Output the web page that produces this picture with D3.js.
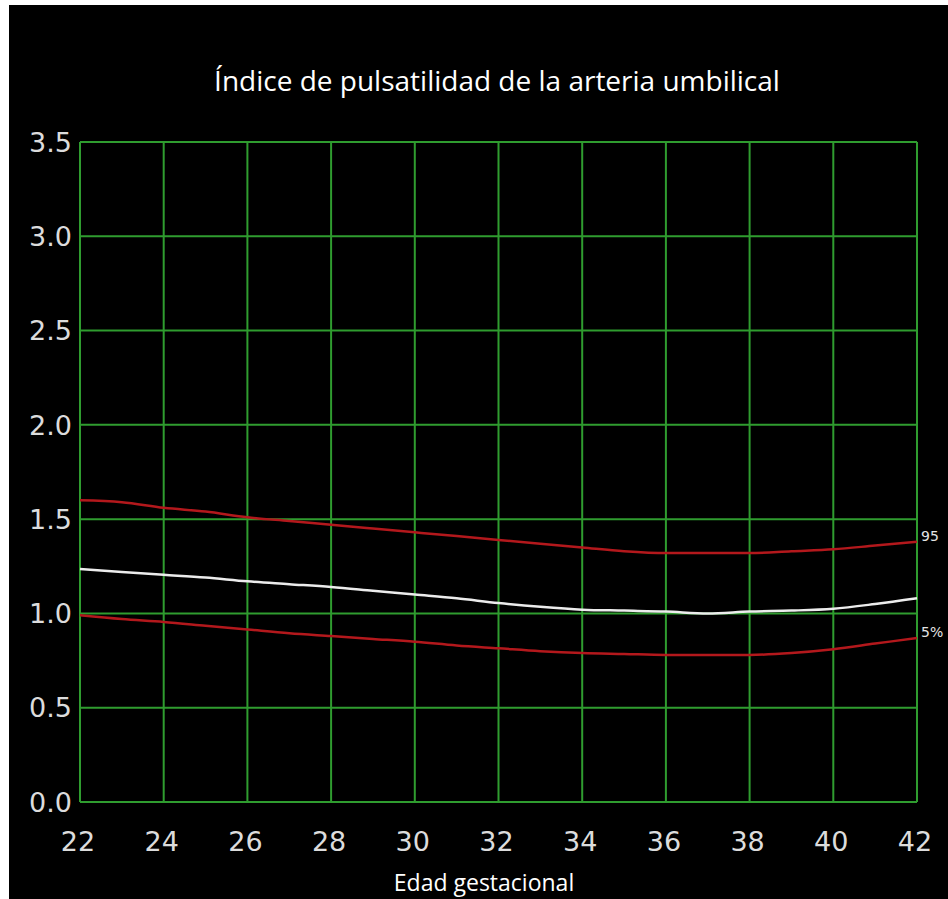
<!DOCTYPE html>
<html>
<head>
  <meta charset="utf-8">
  <title>Índice de pulsatilidad de la arteria umbilical</title>
  <script src="https://cdn.jsdelivr.net/npm/d3@7"></script>
  <style>
    body { margin: 0; background: #fff; }
    svg { display: block; }
  </style>
</head>
<body>
<script>
  // semanas de gestación
  const weeks = [22, 23, 24, 25, 26, 27, 28, 29, 30, 31, 32, 33, 34, 35, 36, 37, 38, 39, 40, 41, 42];
  // percentil 95
  const p95 = [1.60, 1.59, 1.56, 1.54, 1.51, 1.49, 1.47, 1.45, 1.43, 1.41, 1.39, 1.37, 1.35, 1.33, 1.32, 1.32, 1.32, 1.33, 1.34, 1.36, 1.38];
  // percentil 50
  const p50 = [1.235, 1.22, 1.205, 1.19, 1.17, 1.155, 1.14, 1.12, 1.10, 1.08, 1.055, 1.035, 1.02, 1.015, 1.01, 1.00, 1.01, 1.015, 1.025, 1.05, 1.08];
  // percentil 5
  const p5 = [0.99, 0.97, 0.955, 0.935, 0.915, 0.895, 0.88, 0.865, 0.85, 0.83, 0.815, 0.80, 0.79, 0.785, 0.78, 0.78, 0.78, 0.79, 0.81, 0.84, 0.87];

  const xTicks = [22, 24, 26, 28, 30, 32, 34, 36, 38, 40, 42];
  const yTicks = [0, 0.5, 1.0, 1.5, 2.0, 2.5, 3.0, 3.5];

  const w = 948, h = 899;

  const svg = d3.select("body").append("svg")
    .attr("width", w)
    .attr("height", h);

  // fondo negro con el borde blanco arriba y a la izquierda
  svg.append("rect")
    .attr("x", 9).attr("y", 5)
    .attr("width", w - 9).attr("height", h - 5)
    .attr("fill", "#000");

  const x = d3.scaleLinear().domain([22, 42]).range([80, 917]);
  const y = d3.scaleLinear().domain([0, 3.5]).range([802, 142]);

  // rejilla verde
  svg.append("g")
    .selectAll("line.v")
    .data(xTicks)
    .enter()
    .append("line")
    .attr("class", "v")
    .attr("x1", d => x(d)).attr("x2", d => x(d))
    .attr("y1", y(3.5)).attr("y2", y(0))
    .attr("stroke", "#2f9c2f")
    .attr("stroke-width", 2);

  svg.append("g")
    .selectAll("line.h")
    .data(yTicks)
    .enter()
    .append("line")
    .attr("class", "h")
    .attr("x1", x(22)).attr("x2", x(42))
    .attr("y1", d => y(d)).attr("y2", d => y(d))
    .attr("stroke", "#2f9c2f")
    .attr("stroke-width", 2);

  // etiquetas de los ejes
  svg.append("g")
    .selectAll("text")
    .data(yTicks)
    .enter()
    .append("text")
    .attr("x", 72)
    .attr("y", d => y(d))
    .attr("dy", "0.36em")
    .attr("text-anchor", "end")
    .attr("font-family", "DejaVu Sans")
    .attr("font-size", "27px")
    .attr("fill", "#dcdcdc")
    .text(d => d.toFixed(1));

  svg.append("g")
    .selectAll("text")
    .data(xTicks)
    .enter()
    .append("text")
    .attr("x", d => x(d) - 2)
    .attr("y", 851)
    .attr("text-anchor", "middle")
    .attr("font-family", "DejaVu Sans")
    .attr("font-size", "27px")
    .attr("fill", "#dcdcdc")
    .text(d => d);

  // curvas
  const line = d3.line()
    .x((d, i) => x(weeks[i]))
    .y(d => y(d))
    .curve(d3.curveMonotoneX);

  const series = [
    { values: p95, color: "#b3181c" },
    { values: p5, color: "#b3181c" },
    { values: p50, color: "#ececec" }
  ];

  svg.selectAll("path.serie")
    .data(series)
    .enter()
    .append("path")
    .attr("class", "serie")
    .attr("d", d => line(d.values))
    .attr("fill", "none")
    .attr("stroke", d => d.color)
    .attr("stroke-width", 2.5);

  // etiquetas de percentil
  svg.append("text")
    .attr("x", 921).attr("y", 541)
    .attr("font-family", "DejaVu Sans")
    .attr("font-size", "14px")
    .attr("fill", "#e4e4e4")
    .text("95");

  svg.append("text")
    .attr("x", 921).attr("y", 637)
    .attr("font-family", "DejaVu Sans")
    .attr("font-size", "14px")
    .attr("fill", "#e4e4e4")
    .text("5%");

  // títulos
  svg.append("text")
    .attr("x", 497).attr("y", 91)
    .attr("text-anchor", "middle")
    .attr("font-family", "Open Sans")
    .attr("font-size", "28px")
    .attr("fill", "#fff")
    .text("Índice de pulsatilidad de la arteria umbilical");

  svg.append("text")
    .attr("x", 484).attr("y", 891)
    .attr("text-anchor", "middle")
    .attr("font-family", "Open Sans")
    .attr("font-size", "23px")
    .attr("fill", "#fff")
    .text("Edad gestacional");
</script>
</body>
</html>
